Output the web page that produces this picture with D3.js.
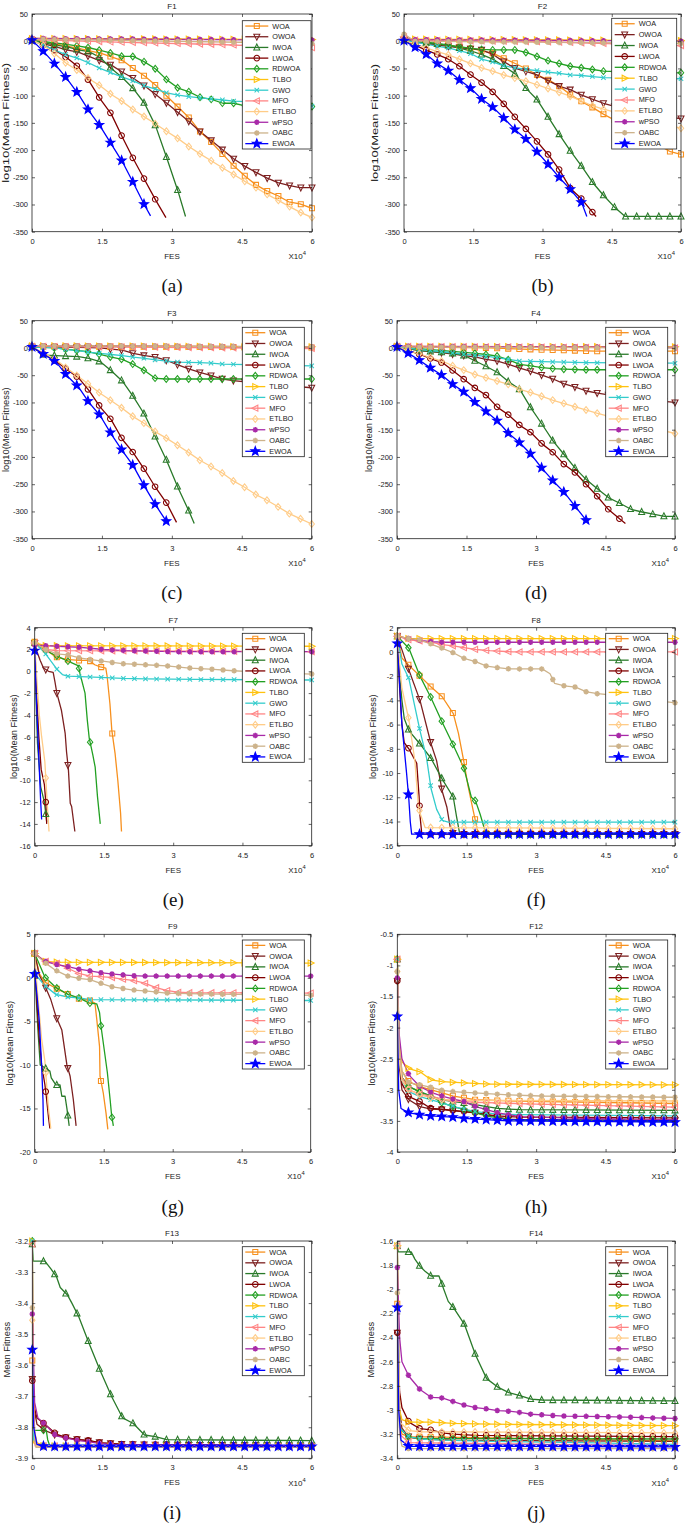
<!DOCTYPE html>
<html><head><meta charset="utf-8">
<script src="https://cdn.jsdelivr.net/npm/d3@7"></script>
<style>body{margin:0;background:#fff}svg{display:block}</style>
</head><body>
<svg id="c" width="685" height="1524"></svg>
<script>
// ---------- series definitions ----------
const algorithms = ["WOA","OWOA","IWOA","LWOA","RDWOA","TLBO","GWO","MFO","ETLBO","wPSO","OABC","EWOA"];
const colors = ["#f7901e","#7c2020","#2a7a2a","#800000","#22a022","#ffc20e","#33cccc","#ff8585","#ffcc88","#a82aa8","#cdb38b","#0000ff"];
const markerTypes = ["square","tridown","triup","circle","diamond","triright","x","trileft","diamond","asterisk","asterisk","star"];
const xTicks = [0,1.5,3,4.5,6];
const xTickLabels = ["0","1.5","3","4.5","6"];
const markerStepFES = 0.24; // x10^4 FES between markers

// ---------- data: [FES (x10^4), value] per algorithm, order as above ----------
const f1Data = [
 [[0,2],[0.5,-5],[1.0,-13],[1.5,-23],[1.95,-36],[2.17,-50],[2.42,-64.5],[2.65,-81],[2.89,-101],[3.13,-121],[3.37,-141],[3.6,-166],[3.85,-186],[4.09,-208],[4.32,-229],[4.57,-248],[4.8,-264],[5.03,-275],[5.27,-284],[5.5,-295],[5.74,-299],[6,-307]],
 [[0,2],[0.25,-5],[0.5,-10],[0.74,-16],[0.99,-20],[1.22,-28],[1.46,-36],[1.7,-44],[1.94,-57],[2.17,-68],[2.41,-82],[2.65,-98],[2.89,-114],[3.13,-131],[3.37,-148],[3.6,-166],[3.85,-183],[4.09,-200],[4.32,-216],[4.57,-230],[4.8,-241],[5.03,-251],[5.27,-260],[5.5,-265],[5.74,-269],[6,-269]],
 [[0,2],[0.27,-3],[0.5,-7],[0.74,-10],[0.99,-16],[1.22,-19],[1.46,-30],[1.7,-50],[1.94,-67],[2.17,-87],[2.41,-114],[2.65,-156],[2.89,-215],[3.13,-276],[3.29,-322]],
 [[0,2],[0.27,-8],[0.5,-17],[0.74,-30],[1.0,-48],[1.22,-73],[1.46,-106],[1.7,-134],[1.94,-177],[2.17,-216],[2.41,-254],[2.65,-292],[2.87,-324]],
 [[0,2],[0.27,-1],[0.5,-3],[0.74,-6],[1.0,-9],[1.22,-12],[1.46,-17],[1.7,-22],[1.94,-28],[2.17,-28],[2.41,-38],[2.65,-51],[2.89,-71],[3.13,-86],[3.37,-93],[3.6,-103],[3.85,-107],[4.09,-114],[4.32,-114],[4.57,-119],[4.8,-120],[6,-120]],
 [[0,5],[6,3]],
 [[0,2],[0.27,-8],[0.5,-17],[0.74,-25],[1.0,-32],[1.22,-40],[1.46,-50],[1.7,-58],[1.94,-66],[2.17,-73],[2.41,-82],[2.65,-88],[2.89,-95],[3.13,-99],[3.37,-102],[3.6,-104],[3.85,-106],[4.09,-108],[4.32,-110],[4.57,-111],[4.8,-114],[5.5,-117],[6,-119]],
 [[0,3],[2,-2],[4,-6],[6,-12]],
 [[0,2],[0.27,-9],[0.5,-24],[0.74,-41],[1.0,-55],[1.22,-69],[1.46,-82],[1.7,-98],[1.94,-111],[2.17,-126],[2.41,-139],[2.65,-152],[2.89,-166],[3.13,-179],[3.37,-194],[3.6,-207],[3.85,-220],[4.09,-233],[4.32,-245],[4.57,-258],[4.8,-269],[5.03,-281],[5.27,-292],[5.5,-303],[5.74,-314],[6,-324]],
 [[0,5],[6,2]],
 [[0,4],[6,-4]],
 [[0,2],[0.26,-20],[0.51,-44],[0.76,-70],[1.0,-98],[1.22,-128],[1.46,-156],[1.7,-189],[1.94,-222],[2.17,-260],[2.41,-301],[2.54,-321]]
];
const f2Data = [
 [[0,2],[0.5,-3],[1.0,-8],[1.5,-14],[1.92,-22],[2.15,-31],[2.41,-41],[2.66,-51],[2.88,-62],[3.13,-71],[3.37,-83],[3.6,-98],[3.85,-111],[4.09,-122],[4.32,-134],[5.0,-165],[5.5,-190],[5.77,-203],[6,-208]],
 [[0,2],[0.5,-5],[1.0,-10],[1.22,-12],[1.46,-14],[1.68,-16],[1.92,-24],[2.15,-37],[2.41,-50],[2.66,-56],[2.88,-62],[3.13,-73],[3.37,-83],[3.6,-89],[3.85,-99],[4.09,-107],[4.32,-114],[5.0,-130],[5.5,-138],[6,-142]],
 [[0,2],[0.5,-3],[1.0,-8],[1.46,-18],[1.7,-25],[1.92,-33],[2.15,-45],[2.41,-60],[2.66,-88],[2.88,-107],[3.13,-140],[3.37,-172],[3.6,-201],[3.85,-230],[4.09,-260],[4.32,-283],[4.55,-304],[4.79,-322],[6,-322]],
 [[0,2],[0.25,-8],[0.5,-17],[0.74,-25],[0.96,-33],[1.2,-46],[1.45,-62],[1.68,-76],[1.92,-93],[2.15,-114],[2.41,-140],[2.66,-163],[2.88,-184],[3.13,-209],[3.37,-237],[3.6,-270],[3.85,-290],[4.09,-315],[4.16,-322]],
 [[0,2],[0.5,-2],[0.74,-4],[0.96,-7],[1.2,-10],[1.45,-13],[1.68,-15],[1.92,-16],[2.41,-16],[2.66,-21],[2.88,-28],[3.13,-36],[3.37,-41],[3.6,-46],[3.85,-49],[4.09,-52],[4.32,-55],[5,-57],[6,-58]],
 [[0,4],[6,1]],
 [[0,2],[0.5,-6],[1.0,-13],[1.45,-23],[1.68,-33],[1.92,-38],[2.15,-45],[2.41,-49],[2.66,-52],[2.88,-54],[3.13,-57],[3.37,-59],[3.6,-62],[3.85,-63],[4.09,-65],[4.32,-67],[6,-69]],
 [[0,8],[0.24,2],[3,-1],[6,-8]],
 [[0,2],[0.24,-6],[0.48,-12],[0.72,-19],[0.96,-25],[1.2,-33],[1.45,-41],[1.68,-49],[1.92,-55],[2.15,-62],[2.41,-68],[2.66,-74],[2.88,-80],[3.13,-87],[3.37,-94],[3.6,-101],[3.85,-110],[4.09,-119],[4.32,-125],[5,-140],[6,-160]],
 [[0,3],[6,0]],
 [[0,13],[0.24,0],[6,-4]],
 [[0,1],[0.24,-11],[0.48,-24],[0.72,-41],[0.96,-54],[1.2,-71],[1.45,-87],[1.68,-106],[1.92,-121],[2.15,-140],[2.41,-163],[2.66,-181],[2.88,-203],[3.13,-227],[3.37,-251],[3.6,-272],[3.85,-297],[3.96,-322]]
];
const f3Data = [
 [[0,3],[6,1]],
 [[0,2],[1.0,1],[1.46,0],[1.7,-2],[1.94,-4],[2.17,-10],[2.42,-14],[2.65,-17],[2.89,-23],[3.13,-31],[3.38,-39],[3.6,-45],[3.85,-51],[4.09,-57],[4.32,-60],[5,-66],[6,-73]],
 [[0,2],[0.26,-13],[0.52,-14],[0.74,-15],[1.0,-16],[1.22,-19],[1.46,-25],[1.7,-42],[1.94,-61],[2.17,-89],[2.42,-123],[2.65,-164],[2.89,-207],[3.13,-256],[3.38,-302],[3.48,-322]],
 [[0,2],[0.26,-12],[0.52,-25],[0.74,-39],[1.0,-55],[1.22,-78],[1.46,-108],[1.7,-132],[1.94,-168],[2.17,-192],[2.42,-224],[2.65,-256],[2.89,-285],[3.1,-320]],
 [[0,2],[0.5,0],[1.0,-5],[1.22,-7],[1.46,-12],[1.7,-17],[1.94,-21],[2.17,-30],[2.42,-42],[2.65,-56],[2.89,-57],[6,-57]],
 [[0,4],[6,2]],
 [[0,2],[0.5,0],[0.74,-3],[1.0,-5],[1.22,-8],[1.46,-10],[1.7,-12],[1.94,-14],[2.17,-17],[2.42,-19],[2.65,-22],[2.89,-24],[3.13,-26],[3.6,-27],[3.85,-28],[4.09,-29.5],[4.32,-30],[6,-33]],
 [[0,3],[6,-1]],
 [[0,2],[0.26,-10],[0.52,-22],[0.74,-37],[1.0,-53],[1.22,-67],[1.46,-83],[1.7,-97],[1.94,-111],[2.17,-126],[2.42,-139],[2.65,-154],[2.89,-166],[3.13,-179],[3.38,-193],[3.6,-206],[3.85,-218],[4.09,-230],[4.32,-244],[4.57,-256],[4.8,-269],[5.03,-279],[5.27,-291],[5.52,-304],[5.75,-313],[6,-323]],
 [[0,4],[6,2]],
 [[0,4],[6,2]],
 [[0,2],[0.26,-12],[0.52,-26],[0.74,-50],[1.0,-72],[1.22,-100],[1.46,-124],[1.7,-158],[1.94,-189],[2.17,-216],[2.42,-255],[2.65,-288],[2.89,-319]]
];
const f4Data = [
 [[0,2],[2,0],[3,-3],[4.3,-6],[6,-6]],
 [[0,2],[0.5,-5],[1.0,-9],[1.46,-14],[1.7,-17],[1.93,-21],[2.17,-24],[2.41,-30],[2.65,-37],[2.89,-43],[3.13,-50],[3.37,-57],[3.61,-66],[3.85,-72],[4.09,-79],[4.33,-83],[5,-92],[6,-100]],
 [[0,2],[0.5,-5],[1.0,-8],[1.22,-10],[1.46,-14],[1.69,-24],[1.93,-34],[2.17,-45],[2.41,-62],[2.65,-76],[2.89,-110],[3.13,-140],[3.37,-171],[3.61,-196],[3.85,-221],[4.09,-242],[4.33,-259],[4.57,-275],[4.81,-285],[5.05,-296],[5.29,-301],[5.53,-305],[5.77,-309],[6,-309]],
 [[0,2],[0.24,-5],[0.5,-12],[0.74,-20],[1.0,-28],[1.21,-42],[1.45,-58],[1.69,-74],[1.93,-87],[2.17,-109],[2.41,-123],[2.65,-142],[2.89,-155],[3.13,-176],[3.37,-192],[3.61,-214],[3.85,-229],[4.09,-251],[4.33,-273],[4.57,-297],[4.81,-314],[4.93,-322]],
 [[0,2],[1.0,-5],[1.46,-8],[1.7,-10],[1.93,-12],[2.17,-15],[2.41,-22],[2.65,-30],[2.89,-33],[3.13,-36],[3.37,-38],[3.61,-39],[4,-40],[6,-40]],
 [[0,3],[6,2]],
 [[0,2],[0.5,-3],[1.0,-7],[1.5,-12],[2.0,-16],[2.41,-21],[2.65,-24],[3.13,-25],[3.61,-26],[4.09,-27],[6,-28]],
 [[0,3],[6,0]],
 [[0,2],[0.24,-5],[0.49,-11],[0.73,-18],[0.97,-24],[1.21,-33],[1.45,-41],[1.69,-49],[1.93,-55],[2.17,-61],[2.41,-67],[2.65,-76],[2.89,-82],[3.13,-89],[3.37,-96],[3.61,-102],[3.85,-108],[4.09,-114],[4.33,-120],[5,-135],[6,-157]],
 [[0,3],[6,1]],
 [[0,2],[6,0]],
 [[0,2],[0.25,-10],[0.49,-23],[0.73,-37],[0.97,-50],[1.21,-67],[1.45,-81],[1.69,-100],[1.93,-117],[2.17,-134],[2.41,-157],[2.65,-174],[2.89,-195],[3.13,-221],[3.37,-244],[3.61,-265],[3.85,-291],[4.09,-317]]
];
const f7Data = [
 [[0,2.7],[0.24,2.0],[0.46,1.3],[0.7,1.1],[0.95,1.0],[1.18,1.0],[1.3,0.6],[1.42,0.4],[1.54,0.3],[1.57,-0.5],[1.63,-3],[1.67,-5.4],[1.74,-7.5],[1.8,-10],[1.86,-13],[1.88,-14.7]],
 [[0,2.6],[0.05,1.8],[0.12,1.0],[0.19,0.3],[0.3,0.0],[0.4,-0.1],[0.44,-1],[0.48,-2.0],[0.58,-3.6],[0.66,-5.7],[0.69,-7.4],[0.73,-9],[0.77,-12.1],[0.8,-12.4],[0.87,-14.7]],
 [[0,2.6],[0.03,-2.6],[0.06,-6.6],[0.13,-10.6],[0.21,-12],[0.26,-13.8]],
 [[0,2.6],[0.04,-2],[0.09,-6],[0.14,-9],[0.21,-10.4],[0.24,-12],[0.26,-14]],
 [[0,2.6],[0.24,1.9],[0.48,1.4],[0.71,0.95],[0.95,0.5],[0.98,-0.2],[1.09,-2],[1.14,-4.5],[1.18,-6.1],[1.26,-7.7],[1.31,-8.8],[1.36,-11.5],[1.42,-14.0]],
 [[0,2.6],[0.24,2.35],[6,2.3]],
 [[0,2.6],[0.22,1.7],[0.48,0.2],[0.6,-0.3],[0.71,-0.45],[1.42,-0.55],[1.9,-0.65],[2.4,-0.7],[3.5,-0.75],[6,-0.8]],
 [[0,2.6],[0.24,2.0],[0.5,1.9],[6,1.8]],
 [[0,2.6],[0.05,-1],[0.1,-4],[0.15,-6],[0.22,-8.3],[0.27,-12],[0.31,-14.7]],
 [[0,2.4],[0.24,2.35],[0.5,2.3],[1.0,2.2],[1.5,2.0],[2,1.9],[3,1.8],[6,1.8]],
 [[0,2.6],[0.24,2.0],[0.48,1.6],[0.71,1.5],[1.0,1.2],[1.42,0.95],[1.9,0.7],[2.39,0.6],[2.86,0.5],[3.35,0.3],[3.8,0.2],[4.3,0.05],[5,-0.1],[6,-0.25]],
 [[0,1.9],[0.04,-3],[0.09,-8],[0.13,-12],[0.15,-13.6]]
];
const f8Data = [
 [[0,1.3],[0.1,-0.5],[0.25,-1.1],[0.49,-2.0],[0.73,-2.9],[0.97,-3.7],[1.21,-5.1],[1.32,-6.7],[1.44,-9.1],[1.53,-11.1],[1.64,-13.1],[1.73,-14.7],[1.79,-14.95],[6,-15.05]],
 [[0,1.3],[0.25,-1.5],[0.49,-4.0],[0.73,-7.6],[0.85,-9],[0.97,-11.5],[1.07,-12.8],[1.14,-14.4],[1.21,-15.05],[6,-15.05]],
 [[0,1.3],[0.05,-2],[0.1,-4],[0.15,-5.5],[0.25,-6.5],[0.49,-7.6],[0.73,-8.8],[0.97,-10.5],[1.21,-12.0],[1.28,-13.6],[1.35,-15.05],[6,-15.05]],
 [[0,1.3],[0.05,-3],[0.1,-6],[0.15,-7.5],[0.25,-8.0],[0.42,-9.2],[0.47,-11.9],[0.49,-13.5],[0.53,-15.05],[6,-15.05]],
 [[0,1.3],[0.25,0.3],[0.49,-2.0],[0.73,-3.8],[0.97,-5.8],[1.21,-7.7],[1.44,-9.6],[1.6,-12.0],[1.69,-12.3],[1.79,-13.4],[1.89,-14.7],[1.93,-15.05],[6,-15.05]],
 [[0,1.3],[0.25,1.1],[6,1.1]],
 [[0,1.3],[0.1,-1],[0.25,-2.2],[0.49,-6.5],[0.63,-8.7],[0.73,-11.3],[0.85,-13],[0.97,-13.9],[1.1,-14.05],[6,-14.05]],
 [[0,1.3],[0.25,1.0],[0.49,0.9],[0.73,0.8],[0.97,0.6],[1.21,0.5],[1.44,0.35],[1.7,0.2],[2.0,0.1],[2.5,0],[6,0]],
 [[0,1.3],[0.05,-1],[0.1,-3],[0.25,-5.6],[0.38,-9],[0.45,-12.5],[0.49,-13.3],[0.6,-14.5],[6,-14.6]],
 [[0,1.3],[0.25,1.1],[0.49,0.95],[0.73,0.85],[1.0,0.8],[6,0.8]],
 [[0,1.3],[0.25,1.1],[0.49,1.0],[0.73,0.65],[0.97,0.3],[1.21,-0.07],[1.44,-0.53],[1.69,-0.8],[1.93,-1.17],[2.17,-1.3],[2.41,-1.4],[3.13,-1.4],[3.3,-1.8],[3.4,-2.6],[3.61,-2.8],[3.85,-2.9],[4.09,-3.3],[4.33,-3.45],[5,-3.7],[6,-4.2]],
 [[0,0.7],[0.1,-6],[0.2,-10],[0.25,-12.2],[0.28,-14],[0.31,-15.05],[6,-15.05]]
];
const f9Data = [
 [[0,2.8],[0.1,0.5],[0.22,-0.5],[0.46,-1.2],[0.7,-1.8],[0.96,-2.4],[1.2,-2.6],[1.31,-2.9],[1.35,-4.8],[1.41,-7.9],[1.42,-11.3],[1.49,-13.2],[1.55,-15.5],[1.59,-17.4]],
 [[0,2.8],[0.1,0.3],[0.22,-0.9],[0.35,-2.5],[0.46,-4.4],[0.59,-6],[0.7,-10],[0.77,-11.3],[0.84,-14],[0.9,-17]],
 [[0,2.8],[0.03,-2],[0.07,-6],[0.12,-10],[0.21,-10.3],[0.33,-10.7],[0.36,-11.5],[0.46,-12.3],[0.55,-12.3],[0.59,-13.6],[0.66,-13.6],[0.7,-15.0],[0.75,-17.0]],
 [[0,2.8],[0.05,-3],[0.1,-7],[0.15,-10],[0.22,-12.2],[0.25,-13.5],[0.3,-16],[0.33,-17.3]],
 [[0,2.8],[0.22,0.1],[0.46,-1.1],[0.72,-1.9],[0.96,-2.3],[1.19,-2.9],[1.35,-3.0],[1.41,-4.0],[1.44,-5.5],[1.51,-8.2],[1.58,-10.9],[1.64,-14],[1.67,-15.7],[1.71,-17.0]],
 [[0,2.8],[0.22,1.9],[0.46,1.8],[6,1.7]],
 [[0,0.5],[0.22,-0.9],[0.46,-1.9],[0.72,-2.2],[0.96,-2.3],[1.2,-2.5],[6,-2.6]],
 [[0,2.8],[0.22,1.9],[0.46,1.7],[0.72,1.1],[0.96,0.5],[1.2,0.2],[1.42,0.15],[1.66,0.05],[1.9,-0.15],[2.14,-0.3],[2.39,-0.6],[2.62,-1.1],[2.86,-1.45],[3.1,-1.65],[3.35,-1.7],[6,-1.75]],
 [[0,2.8],[0.05,-1],[0.1,-4],[0.15,-7],[0.22,-9.5],[0.27,-13],[0.3,-15],[0.35,-17.3]],
 [[0,2.8],[0.22,1.9],[0.46,1.55],[0.72,1.3],[0.96,1.0],[1.2,0.8],[1.42,0.6],[1.66,0.45],[1.9,0.35],[2.14,0.25],[2.39,0.2],[6,0.2]],
 [[0,2.8],[0.22,1.75],[0.46,0.85],[0.72,0.2],[0.96,-0.05],[1.2,-0.2],[1.42,-0.6],[1.66,-1.0],[1.9,-1.2],[2.14,-1.4],[2.39,-1.5],[2.62,-1.6],[2.86,-1.75],[3.6,-1.85],[6,-2.0]],
 [[0,0.45],[0.05,-2],[0.1,-5],[0.15,-10],[0.18,-14],[0.19,-17]]
];
const f12Data = [
 [[0,-0.9],[0.04,-2.3],[0.1,-2.7],[0.25,-2.87],[0.49,-2.95],[0.73,-3.0],[0.97,-3.05],[1.21,-3.1],[1.45,-3.13],[1.69,-3.16],[2.5,-3.18],[6,-3.22]],
 [[0,-1.25],[0.04,-2.6],[0.1,-3.0],[0.25,-3.16],[0.49,-3.27],[0.73,-3.31],[0.97,-3.32],[1.21,-3.34],[1.45,-3.35],[1.69,-3.37],[1.93,-3.4],[2.17,-3.44],[2.41,-3.47],[2.65,-3.48],[6,-3.49]],
 [[0,-0.9],[0.04,-2.4],[0.1,-2.8],[0.25,-2.95],[0.49,-3.03],[0.73,-3.1],[0.97,-3.16],[1.21,-3.19],[1.45,-3.21],[1.69,-3.24],[1.93,-3.27],[2.17,-3.3],[2.41,-3.31],[2.65,-3.32],[6,-3.33]],
 [[0,-1.25],[0.04,-2.5],[0.1,-2.9],[0.25,-3.11],[0.49,-3.19],[0.73,-3.3],[0.97,-3.31],[1.21,-3.33],[1.45,-3.35],[1.69,-3.37],[1.93,-3.4],[2.17,-3.42],[2.41,-3.43],[2.65,-3.44],[6,-3.45]],
 [[0,-0.9],[0.04,-2.4],[0.1,-2.8],[0.25,-2.95],[0.49,-3.04],[0.73,-3.1],[0.97,-3.21],[1.21,-3.27],[1.45,-3.32],[1.69,-3.37],[1.93,-3.42],[2.17,-3.45],[2.41,-3.48],[2.65,-3.49],[6,-3.51]],
 [[0,-0.9],[0.04,-2.2],[0.1,-2.55],[0.25,-2.66],[0.49,-2.71],[0.73,-2.84],[0.97,-2.87],[1.45,-2.89],[2,-2.91],[6,-2.92]],
 [[0,-0.9],[0.04,-2.5],[0.1,-2.85],[0.25,-3.03],[0.49,-3.11],[0.73,-3.16],[0.97,-3.21],[1.21,-3.27],[1.45,-3.31],[1.69,-3.35],[1.93,-3.37],[2.17,-3.39],[2.65,-3.4],[6,-3.42]],
 [[0,-0.9],[0.04,-2.4],[0.1,-2.8],[0.25,-3.0],[0.49,-3.07],[0.73,-3.1],[0.97,-3.15],[1.21,-3.18],[1.45,-3.19],[1.69,-3.2],[3,-3.23],[6,-3.28]],
 [[0,-1.1],[0.04,-2.5],[0.1,-2.85],[0.25,-3.0],[0.49,-3.08],[0.73,-3.13],[0.97,-3.16],[1.5,-3.17],[6,-3.18]],
 [[0,-1.2],[0.04,-2.1],[0.1,-2.5],[0.25,-2.76],[0.49,-2.95],[0.73,-3.04],[0.97,-3.1],[1.21,-3.15],[1.45,-3.19],[1.69,-3.27],[1.93,-3.32],[2.17,-3.37],[2.41,-3.4],[2.65,-3.43],[4,-3.46],[6,-3.48]],
 [[0,-1.1],[0.04,-2.3],[0.1,-2.7],[0.25,-2.89],[0.49,-2.92],[0.73,-2.96],[0.97,-3.01],[1.21,-3.03],[1.45,-3.04],[1.69,-3.05],[1.93,-3.06],[2.41,-3.08],[3.1,-3.1],[6,-3.12]],
 [[0,-1.82],[0.03,-3.0],[0.08,-3.3],[0.25,-3.37],[0.49,-3.4],[0.73,-3.42],[0.97,-3.43],[1.21,-3.44],[1.45,-3.46],[1.69,-3.47],[1.93,-3.48],[2.17,-3.49],[2.41,-3.5],[6,-3.52]]
];
const f13Data = [
 [[0,-3.585],[0.03,-3.8],[0.1,-3.85],[0.25,-3.86],[6,-3.862]],
 [[0,-3.645],[0.05,-3.75],[0.1,-3.79],[0.27,-3.81],[0.5,-3.825],[0.76,-3.835],[1.0,-3.84],[1.5,-3.85],[2,-3.855],[3,-3.857],[6,-3.86]],
 [[0,-3.21],[0.02,-3.265],[0.27,-3.265],[0.4,-3.29],[0.52,-3.315],[0.6,-3.35],[0.76,-3.375],[0.85,-3.4],[1.0,-3.445],[1.22,-3.53],[1.45,-3.615],[1.7,-3.70],[1.94,-3.77],[2.17,-3.788],[2.41,-3.825],[2.64,-3.83],[2.89,-3.84],[6,-3.843]],
 [[0,-3.65],[0.05,-3.74],[0.1,-3.77],[0.27,-3.79],[0.51,-3.822],[0.76,-3.834],[1.0,-3.84],[1.22,-3.842],[1.45,-3.85],[1.94,-3.855],[6,-3.86]],
 [[0,-3.2],[0.02,-3.81],[0.3,-3.81],[0.33,-3.84],[0.38,-3.862],[6,-3.862]],
 [[0,-3.2],[0.03,-3.85],[0.1,-3.86],[6,-3.862]],
 [[0,-3.2],[0.03,-3.84],[0.1,-3.858],[6,-3.862]],
 [[0,-3.21],[0.03,-3.7],[0.06,-3.86],[6,-3.862]],
 [[0,-3.455],[0.03,-3.8],[0.1,-3.86],[6,-3.862]],
 [[0,-3.435],[0.05,-3.72],[0.12,-3.77],[0.27,-3.79],[0.51,-3.828],[0.76,-3.836],[1.0,-3.843],[1.22,-3.847],[1.45,-3.852],[1.7,-3.855],[6,-3.86]],
 [[0,-3.415],[0.03,-3.8],[0.08,-3.865],[6,-3.865]],
 [[0,-3.55],[0.03,-3.8],[0.1,-3.855],[0.27,-3.862],[6,-3.862]]
];
const f14Data = [
 [[0,-2.12],[0.05,-3.1],[0.1,-3.2],[0.25,-3.22],[6,-3.255]],
 [[0,-2.36],[0.05,-3.0],[0.1,-3.15],[0.25,-3.225],[0.49,-3.24],[1.21,-3.25],[6,-3.26]],
 [[0,-1.64],[0.02,-1.69],[0.3,-1.69],[0.38,-1.75],[0.49,-1.81],[0.6,-1.85],[0.73,-1.89],[0.9,-1.89],[0.97,-1.965],[1.1,-2.1],[1.21,-2.15],[1.45,-2.29],[1.69,-2.545],[1.93,-2.74],[2.17,-2.81],[2.41,-2.856],[2.65,-2.88],[2.89,-2.91],[3.13,-2.917],[6,-2.925]],
 [[0,-2.36],[0.05,-2.85],[0.1,-2.98],[0.25,-3.1],[0.49,-3.155],[0.73,-3.165],[0.97,-3.19],[1.21,-3.2],[1.69,-3.21],[6,-3.22]],
 [[0,-1.64],[0.05,-3.15],[0.25,-3.225],[0.49,-3.235],[6,-3.24]],
 [[0,-1.64],[0.05,-3.0],[0.1,-3.08],[0.25,-3.1],[0.73,-3.1],[1.21,-3.11],[1.69,-3.115],[2.65,-3.12],[6,-3.13]],
 [[0,-1.64],[0.05,-3.15],[0.25,-3.22],[0.5,-3.24],[1.0,-3.25],[2,-3.26],[4,-3.27],[6,-3.285]],
 [[0,-1.64],[0.05,-3.2],[0.25,-3.27],[6,-3.3]],
 [[0,-1.64],[0.05,-3.1],[0.25,-3.17],[0.5,-3.18],[6,-3.19]],
 [[0,-1.82],[0.05,-2.4],[0.1,-2.6],[0.25,-2.72],[0.49,-2.83],[0.73,-2.895],[0.97,-2.9],[1.21,-2.93],[1.45,-2.96],[1.69,-2.98],[1.93,-2.99],[2.17,-3.005],[2.41,-3.01],[2.65,-3.02],[2.89,-3.035],[3.13,-3.04],[3.6,-3.05],[4.5,-3.055],[6,-3.07]],
 [[0,-2.03],[0.05,-3.2],[0.1,-3.3],[0.25,-3.32],[6,-3.32]],
 [[0,-2.15],[0.03,-3.0],[0.08,-3.25],[0.25,-3.3],[6,-3.305]]
];

const yTicksF1 = [-350,-300,-250,-200,-150,-100,-50,0,50];
const yTicksF7 = [-16,-14,-12,-10,-8,-6,-4,-2,0,2,4];
const yTicksF8 = [-16,-14,-12,-10,-8,-6,-4,-2,0,2];
const yTicksF9 = [-20,-15,-10,-5,0,5];
const yTicksF12 = [-4,-3.5,-3,-2.5,-2,-1.5,-1,-0.5];
const yTicksF13 = [-3.9,-3.8,-3.7,-3.6,-3.5,-3.4,-3.3,-3.2];
const yTicksF14 = [-3.4,-3.2,-3,-2.8,-2.6,-2.4,-2.2,-2,-1.8,-1.6];

// ---------- layout ----------
const panels = [
 {t:"F1",cap:"(a)",data:f1Data,dom:[-350,50],ticks:yTicksF1,yl:"log10(Mean Fitness)",L:32,R:312,T:14,B:231.7,ylx:6,ylLen:120,lg:[242.3,20.7,68.7,128.3]},
 {t:"F2",cap:"(b)",data:f2Data,dom:[-350,50],ticks:yTicksF1,yl:"log10(Mean Fitness)",L:404,R:681,T:14,B:231.7,ylx:375,ylLen:118,lg:[611.7,18.3,65,130.7]},
 {t:"F3",cap:"(c)",data:f3Data,dom:[-350,50],ticks:yTicksF1,yl:"log10(Mean Fitness)",L:32,R:311.7,T:320.7,B:538.7,ylx:6,lg:[242.3,327.3,62,129.4]},
 {t:"F4",cap:"(d)",data:f4Data,dom:[-350,50],ticks:yTicksF1,yl:"log10(Mean Fitness)",L:397,R:675,T:320.7,B:538.7,ylx:369,lg:[605.7,327.3,62,129.4]},
 {t:"F7",cap:"(e)",data:f7Data,dom:[-16,4],ticks:yTicksF7,yl:"log10(Mean Fitness)",L:34.7,R:311.7,T:627.7,B:845.7,ylx:14,lg:[242.3,633.3,62,129]},
 {t:"F8",cap:"(f)",data:f8Data,dom:[-16,2],ticks:yTicksF8,yl:"log10(Mean Fitness)",L:397.3,R:675,T:627.7,B:845.7,ylx:373,lg:[605.7,633.3,62,129]},
 {t:"F9",cap:"(g)",data:f9Data,dom:[-20,5],ticks:yTicksF9,yl:"log10(Mean Fitness)",L:34.7,R:310.7,T:934.3,B:1152,ylx:10,lg:[242.3,940,62,129]},
 {t:"F12",cap:"(h)",data:f12Data,dom:[-4,-0.5],ticks:yTicksF12,yl:"log10(Mean Fitness)",L:397.3,R:675,T:934.3,B:1152,ylx:372,lg:[605.7,940,62,129]},
 {t:"F13",cap:"(i)",data:f13Data,dom:[-3.9,-3.2],ticks:yTicksF13,yl:"Mean Fitness",L:32.3,R:311.7,T:1241,B:1458.3,ylx:7.3,lg:[242.3,1246.7,62,129]},
 {t:"F14",cap:"(j)",data:f14Data,dom:[-3.4,-1.6],ticks:yTicksF14,yl:"Mean Fitness",L:397.3,R:675,T:1241,B:1458.3,ylx:370.7,lg:[605.7,1246.7,62,129]}
];

const FONT = "'Liberation Sans', Arial, Helvetica, sans-serif";
const svg = d3.select("#c");
svg.append("rect").attr("width",685).attr("height",1524).attr("fill","#fff");
const defs = svg.append("defs");

function markerPath(type, s){
  const h = s/2;
  switch(type){
    case "square": return `M${-h},${-h}H${h}V${h}H${-h}Z`;
    case "circle": return `M${h},0A${h},${h} 0 1,1 ${-h},0A${h},${h} 0 1,1 ${h},0Z`;
    case "triup": return `M0,${-h*1.15}L${h},${h*0.85}L${-h},${h*0.85}Z`;
    case "tridown": return `M0,${h*1.15}L${h},${-h*0.85}L${-h},${-h*0.85}Z`;
    case "triright": return `M${h*1.15},0L${-h*0.85},${h}L${-h*0.85},${-h}Z`;
    case "trileft": return `M${-h*1.15},0L${h*0.85},${h}L${h*0.85},${-h}Z`;
    case "diamond": return `M0,${-h*1.25}L${h},0L0,${h*1.25}L${-h},0Z`;
    case "x": return `M${-h*0.8},${-h*0.8}L${h*0.8},${h*0.8}M${-h*0.8},${h*0.8}L${h*0.8},${-h*0.8}`;
    case "asterisk": { const a=h*0.7; return `M0,${-h}V${h}M${-h},0H${h}M${-a},${-a}L${a},${a}M${-a},${a}L${a},${-a}`; }
    case "star": {
      let p=""; const R=h*1.25, r=R*0.42;
      for(let i=0;i<10;i++){ const ang=-Math.PI/2+i*Math.PI/5; const rr=i%2?r:R;
        p += (i?"L":"M")+(rr*Math.cos(ang)).toFixed(2)+","+(rr*Math.sin(ang)).toFixed(2); }
      return p+"Z";
    }
  }
}
const markerSize = {square:5,circle:5.6,triup:6,tridown:6,triright:6,trileft:6,diamond:5.4,x:5.5,asterisk:5.5,star:7.6};

function drawMarker(g, type, color, cx, cy){
  const filled = type==="star";
  g.append("path").attr("d", markerPath(type, markerSize[type]))
    .attr("transform",`translate(${cx},${cy})`)
    .attr("fill", filled?color:"none")
    .attr("stroke", color)
    .attr("stroke-width", type==="asterisk"?1.5:1.05);
}

function interp(pts, xv){
  for(let i=0;i<pts.length-1;i++){
    const [x0,y0]=pts[i],[x1,y1]=pts[i+1];
    if(xv>=x0-1e-9 && xv<=x1+1e-9){ return x1===x0? y1 : y0+(y1-y0)*(xv-x0)/(x1-x0); }
  }
  return null;
}

panels.forEach((p, pi) => {
  const x = d3.scaleLinear().domain([0,6]).range([p.L,p.R]);
  const y = d3.scaleLinear().domain(p.dom).range([p.B,p.T]);
  const g = svg.append("g");
  const cid = "clip"+pi;
  defs.append("clipPath").attr("id",cid).append("rect")
    .attr("x",p.L).attr("y",p.T).attr("width",p.R-p.L).attr("height",p.B-p.T);

  // series lines
  const line = d3.line().x(d=>x(d[0])).y(d=>y(d[1]));
  const lg = g.append("g").attr("clip-path",`url(#${cid})`);
  const mg = g.append("g");
  p.data.forEach((pts, si) => {
    lg.append("path").attr("d", line(pts)).attr("fill","none")
      .attr("stroke", colors[si]).attr("stroke-width",1.3).attr("stroke-linejoin","round");
  });
  p.data.forEach((pts, si) => {
    const xEnd = pts[pts.length-1][0];
    for(let k=0;k<=25;k++){
      const xv = k*markerStepFES;
      if(xv > xEnd + 1e-9) break;
      const yv = interp(pts, xv);
      if(yv===null || yv<p.dom[0] || yv>p.dom[1]) continue;
      drawMarker(mg, markerTypes[si], colors[si], x(xv), y(yv));
    }
  });

  // axes
  const ax = g.append("g").attr("font-family",FONT);
  const bottom = ax.append("g").attr("transform",`translate(0,${p.B})`)
    .call(d3.axisBottom(x).tickValues(xTicks).tickFormat((d,i)=>xTickLabels[i]).tickSizeInner(-3).tickSizeOuter(0).tickPadding(6.5));
  const top = ax.append("g").attr("transform",`translate(0,${p.T})`)
    .call(d3.axisTop(x).tickValues(xTicks).tickFormat("").tickSizeInner(-3).tickSizeOuter(0));
  const left = ax.append("g").attr("transform",`translate(${p.L},0)`)
    .call(d3.axisLeft(y).tickValues(p.ticks).tickFormat(d=>String(d)).tickSizeInner(-3).tickSizeOuter(0).tickPadding(4));
  const right = ax.append("g").attr("transform",`translate(${p.R},0)`)
    .call(d3.axisRight(y).tickValues(p.ticks).tickFormat("").tickSizeInner(-3).tickSizeOuter(0));
  [bottom,top,left,right].forEach(a=>{
    a.select(".domain").remove();
    a.selectAll("line").attr("stroke","#222").attr("stroke-width",0.7);
    a.selectAll("text").attr("font-size",7.5).attr("fill","#222").attr("font-family",FONT);
  });
  g.append("rect").attr("x",p.L).attr("y",p.T).attr("width",p.R-p.L).attr("height",p.B-p.T)
    .attr("fill","none").attr("stroke","#222").attr("stroke-width",0.8);

  // title
  g.append("text").attr("x",(p.L+p.R)/2).attr("y",p.T-5).attr("text-anchor","middle")
    .attr("font-family",FONT).attr("font-size",8).attr("fill","#222").text(p.t);
  // y label
  const yl = g.append("text").attr("transform",`translate(${p.ylx},${(p.T+p.B)/2}) rotate(-90)`)
    .attr("text-anchor","middle").attr("dominant-baseline","central")
    .attr("font-family",FONT).attr("font-size",9.3).attr("fill","#222").text(p.yl);
  if(p.ylLen) yl.attr("textLength",p.ylLen).attr("lengthAdjust","spacingAndGlyphs");
  // x label
  g.append("text").attr("x",(p.L+p.R)/2).attr("y",p.B+24.4).attr("text-anchor","middle")
    .attr("dominant-baseline","central").attr("font-family",FONT).attr("font-size",8).attr("fill","#222").text("FES");
  const sc = g.append("text").attr("x",p.R-6).attr("y",p.B+24.4).attr("text-anchor","end")
    .attr("dominant-baseline","central").attr("font-family",FONT).attr("font-size",8).attr("fill","#222");
  sc.append("tspan").text("X10");
  sc.append("tspan").attr("font-size",5.8).attr("dy",-3).text("4");
  // caption
  g.append("text").attr("x",(p.L+p.R)/2).attr("y",p.B+54).attr("text-anchor","middle")
    .attr("dominant-baseline","central").attr("font-family","'Liberation Serif','DejaVu Serif',serif")
    .attr("font-size",19).attr("fill","#111").text(p.cap);

  // legend
  const [lx,ly,lw,lh] = p.lg;
  const leg = g.append("g");
  leg.append("rect").attr("x",lx).attr("y",ly).attr("width",lw).attr("height",lh)
    .attr("fill","#fff").attr("stroke","#222").attr("stroke-width",0.8);
  const rowH = lh/12;
  const lineEnd = lw>66 ? 26 : 23;
  algorithms.forEach((name,i)=>{
    const cy = ly + rowH*(i+0.5);
    leg.append("line").attr("x1",lx+3).attr("x2",lx+lineEnd).attr("y1",cy).attr("y2",cy)
      .attr("stroke",colors[i]).attr("stroke-width",1.3);
    drawMarker(leg, markerTypes[i], colors[i], lx+(3+lineEnd)/2, cy);
    leg.append("text").attr("x",lx+lineEnd+4).attr("y",cy).attr("dominant-baseline","central")
      .attr("font-family",FONT).attr("font-size",7.3).attr("fill","#222").text(name);
  });
});
</script>
</body></html>
